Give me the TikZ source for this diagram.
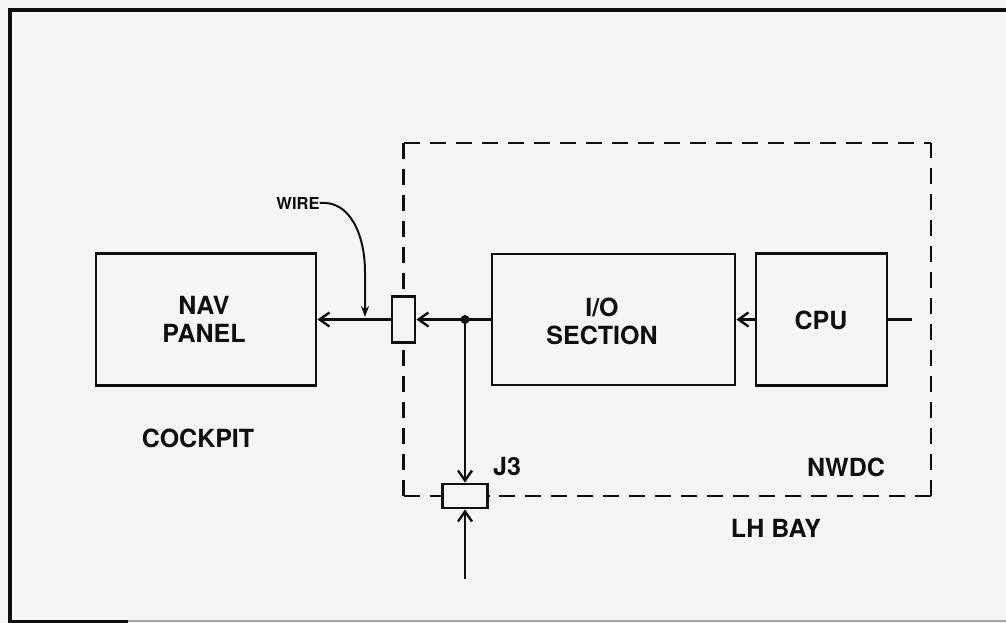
\documentclass[tikz,border=0pt]{standalone}
\usepackage{fontspec}
\setmainfont{TeX Gyre Heros}
\usetikzlibrary{arrows.meta}
\definecolor{paper}{RGB}{245,245,245}
\definecolor{ink}{RGB}{15,15,15}
\begin{document}
\begin{tikzpicture}[x=1pt,y=-1pt,
  box/.style={draw=ink,line width=2.8pt,inner sep=0pt},
  conn/.style={draw=ink,line width=2.8pt,inner sep=0pt,fill=paper},
  lbl/.style={text=ink,font=\fontsize{25}{28}\selectfont\bfseries,align=center,inner sep=0pt},
  small/.style={text=ink,font=\fontsize{16.5}{18}\selectfont\bfseries,inner sep=0pt},
  sig/.style={draw=ink,line width=2.4pt},
  barb/.style={-{Straight Barb[length=10pt,width=14pt,line width=2.4pt]}},
  dsh/.style={draw=ink,line width=2.6pt,dash pattern=on 16pt off 10pt},
]
\useasboundingbox (0,0) rectangle (1006,623);
\fill[paper] (0,0) rectangle (1006,623);
% outer frame
\draw[ink,line width=4.5pt] (10,623) -- (10,10) -- (1006,10);
\draw[gray!70,line width=1.5pt] (10,621) -- (1006,621);
\draw[ink,line width=3pt] (10,621) -- (128,621);
% blocks
\node[box,minimum width=220pt,minimum height=132pt] (nav) at (206,319.5) {};
\node[lbl] (navt) at (204,319.5) {NAV\\PANEL};
\node[box,minimum width=243pt,minimum height=131pt] (io) at (613.5,319.5) {};
\node[lbl] (iot) at (602,321) {I/O\\SECTION};
\node[box,minimum width=131pt,minimum height=132pt] (cpu) at (821.5,319.5) {};
\node[lbl] (cput) at (821,320) {CPU};
% connectors
\node[conn,minimum width=23pt,minimum height=46pt] (c1) at (403.5,319.5) {};
\node[conn,minimum width=45pt,minimum height=24pt] (j3) at (465,496) {};
% dashed NWDC boundary
\coordinate (tl) at (403.5,143);
\coordinate (tr) at (931,143);
\coordinate (br) at (931,496);
\coordinate (bl) at (403.5,496);
\draw[dsh] (tl) -- (c1.north);
\draw[dsh] (tl) -- (tr);
\draw[dsh] (br) -- (tr);
\draw[dsh] (br) -- (j3.east);
\draw[dsh] (bl) -- (c1.south);
\draw[dsh] (bl) -- (j3.west);
% signal lines
\coordinate (dot) at (465,319.5);
\draw[sig,barb] (c1.west) -- (nav.east);
\draw[sig] (io.west) -- (dot);
\draw[sig,barb] (dot) -- (c1.east);
\fill[ink] (dot) circle (4.5pt);
\draw[sig,barb] (dot) -- (j3.north);
\coordinate (feed) at (465,579);
\draw[sig,barb] (feed) -- (j3.south);
\draw[sig,barb] (cpu.west) -- (io.east);
\coordinate (stub) at (912,319.5);
\draw[sig] (cpu.east) -- (stub);
% wire callout
\node[small] (wire) at (298,203) {WIRE};
\coordinate (wt) at (365,317);
\draw[ink,line width=2pt,-{Stealth[length=11pt,width=8pt]}] (wire.east) .. controls (350,200) and (365,235) .. (365,272) -- (wt);
% area labels
\node[lbl] (cockpit) at (198,438) {COCKPIT};
\node[lbl] (nwdc) at (846,467) {NWDC};
\node[lbl] (lhbay) at (776,528) {LH BAY};
\node[lbl] (j3t) at (507,467) {J3};
\end{tikzpicture}
\end{document}
